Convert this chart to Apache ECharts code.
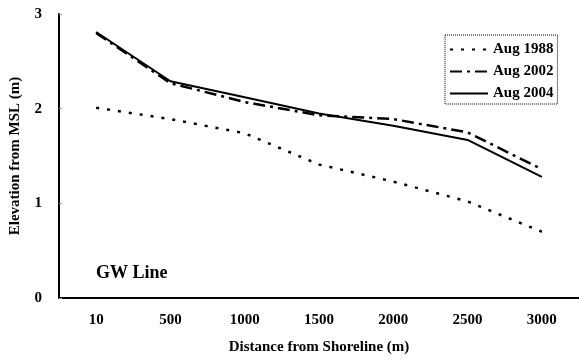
<!DOCTYPE html>
<html lang="en">
<head>
    <meta charset="UTF-8">
    <title>GW Line</title>
    <script src="https://cdn.jsdelivr.net/npm/echarts@6/dist/echarts.min.js"></script>
</head>
<body style="margin:0;background:#fff;">
<div id="main" style="width:579px;height:360px;"></div>
<script>
    var distances = ['10', '500', '1000', '1500', '2000', '2500', '3000'];
    var aug1988 = [2.01, 1.89, 1.74, 1.41, 1.23, 1.02, 0.70];
    var aug2002 = [2.80, 2.27, 2.07, 1.93, 1.89, 1.75, 1.36];
    var aug2004 = [2.81, 2.29, 2.12, 1.95, 1.82, 1.67, 1.28];
    var yTicks = [0, 1, 2, 3];

    var font = 'Liberation Serif';
    var myChart = echarts.init(document.getElementById('main'));

    var option = {
        backgroundColor: '#fff',
        animation: false,
        title: {
            text: 'GW Line',
            left: 91,
            top: 259,
            textStyle: {fontFamily: font, fontWeight: 'bold', fontSize: 18, color: '#000'}
        },
        legend: {
            orient: 'vertical',
            left: 445,
            top: 35,
            padding: [7, 4, 3, 4],
            itemWidth: 38,
            itemHeight: 10,
            itemGap: 7,
            borderColor: '#000',
            borderWidth: 1,
            borderType: 'dotted',
            itemStyle: {opacity: 0},
            textStyle: {fontFamily: font, fontWeight: 'bold', fontSize: 15, color: '#000'},
            data: ['Aug 1988', 'Aug 2002', 'Aug 2004']
        },
        grid: {left: 59, right: -4, top: 14, bottom: 57},
        xAxis: {
            type: 'category',
            data: distances,
            name: 'Distance from Shoreline (m)',
            nameLocation: 'middle',
            nameGap: 42,
            nameTextStyle: {fontFamily: font, fontWeight: 'bold', fontSize: 15, color: '#000'},
            axisLine: {lineStyle: {color: '#000', width: 2}},
            axisTick: {inside: true, length: 3, lineStyle: {color: '#999'}},
            axisLabel: {margin: 15, fontFamily: font, fontWeight: 'bold', fontSize: 15, color: '#000'}
        },
        yAxis: {
            type: 'value',
            min: yTicks[0],
            max: yTicks[yTicks.length - 1],
            interval: 1,
            name: 'Elevation from MSL (m)',
            nameLocation: 'middle',
            nameGap: 36,
            nameTextStyle: {fontFamily: font, fontWeight: 'bold', fontSize: 15, color: '#000'},
            axisLine: {show: true, lineStyle: {color: '#000', width: 2}},
            axisTick: {show: true, inside: true, length: 3, lineStyle: {color: '#999'}},
            splitLine: {show: false},
            axisLabel: {margin: 17, fontFamily: font, fontWeight: 'bold', fontSize: 15, color: '#000'}
        },
        series: [
            {
                name: 'Aug 1988',
                type: 'line',
                data: aug1988,
                symbol: 'none',
                itemStyle: {color: '#000'},
                lineStyle: {color: '#000', width: 2.5, type: [3, 8]}
            },
            {
                name: 'Aug 2002',
                type: 'line',
                data: aug2002,
                symbol: 'none',
                itemStyle: {color: '#000'},
                lineStyle: {color: '#000', width: 2.5, type: [12, 5, 3, 5]}
            },
            {
                name: 'Aug 2004',
                type: 'line',
                data: aug2004,
                symbol: 'none',
                itemStyle: {color: '#000'},
                lineStyle: {color: '#000', width: 2}
            }
        ]
    };

    myChart.setOption(option);
</script>
</body>
</html>
